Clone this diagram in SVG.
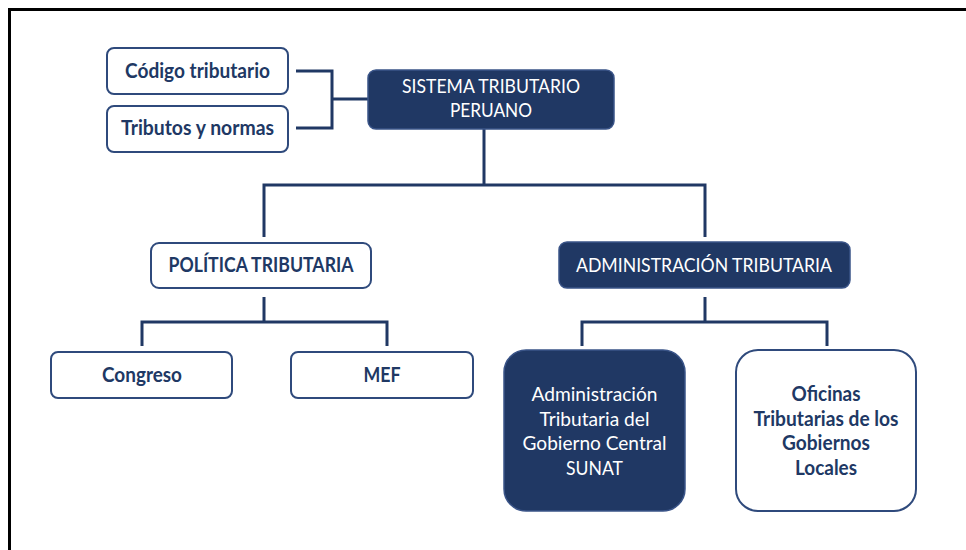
<svg xmlns="http://www.w3.org/2000/svg" width="966" height="550" viewBox="0 0 966 550">
<style>
.frame{stroke:#000;stroke-width:3;fill:none}
.box{fill:#fff;stroke:#2F4A7C;stroke-width:2}
.dark{fill:#203864;stroke:#3A5488;stroke-width:1.5}
.conn{fill:none;stroke:#203864;stroke-width:3}
.tb{font-family:Lato,"Liberation Sans",sans-serif;font-weight:bold;font-size:20px;fill:#203864;text-anchor:middle}
.tw{font-family:Lato,"Liberation Sans",sans-serif;font-size:20px;fill:#fff;text-anchor:middle}
</style>
<rect width="966" height="550" fill="#fff"/>
<path class="frame" d="M9.5,550 V9.5 H966"/>
<g id="connectors">
<path class="conn" d="M296,71 H332 V128 H296 M332,99 H368"/>
<path class="conn" d="M484,129 V185 M264,237 V185 H705 V237"/>
<path class="conn" d="M264,297 V322 M142,346 V322 H387 V346"/>
<path class="conn" d="M705,297 V322 M582,346 V322 H827 V346"/>
</g>
<g id="codigo">
<rect class="box" x="107" y="48" width="181" height="46" rx="7"/>
<text class="tb" x="197.5" y="78" textLength="145" lengthAdjust="spacingAndGlyphs">Código tributario</text>
</g>
<g id="tributos">
<rect class="box" x="107" y="106" width="181" height="46" rx="7"/>
<text class="tb" x="197.5" y="135" textLength="153" lengthAdjust="spacingAndGlyphs">Tributos y normas</text>
</g>
<g id="sistema">
<rect class="dark" x="368" y="70" width="246" height="59" rx="8"/>
<text class="tw" x="491" y="93" font-size="19" textLength="178" lengthAdjust="spacingAndGlyphs">SISTEMA TRIBUTARIO</text>
<text class="tw" x="491" y="117" font-size="19" textLength="82" lengthAdjust="spacingAndGlyphs">PERUANO</text>
</g>
<g id="politica">
<rect class="box" x="151" y="243" width="220" height="45" rx="8"/>
<text class="tb" x="261" y="272" textLength="185" lengthAdjust="spacingAndGlyphs">POLÍTICA TRIBUTARIA</text>
</g>
<g id="administracion">
<rect class="dark" x="559" y="242" width="291" height="46" rx="8"/>
<text class="tw" x="704" y="272" textLength="256" lengthAdjust="spacingAndGlyphs">ADMINISTRACIÓN TRIBUTARIA</text>
</g>
<g id="congreso">
<rect class="box" x="51" y="352" width="181" height="46" rx="7"/>
<text class="tb" x="142" y="382" textLength="80" lengthAdjust="spacingAndGlyphs">Congreso</text>
</g>
<g id="mef">
<rect class="box" x="291" y="352" width="182" height="46" rx="7"/>
<text class="tb" x="382" y="382" textLength="37" lengthAdjust="spacingAndGlyphs">MEF</text>
</g>
<g id="sunat">
<rect class="dark" x="504" y="350" width="181" height="161" rx="22"/>
<text class="tw" x="594.5" y="401" textLength="126" lengthAdjust="spacingAndGlyphs">Administración</text>
<text class="tw" x="594.5" y="426" textLength="110" lengthAdjust="spacingAndGlyphs">Tributaria del</text>
<text class="tw" x="594.5" y="450" textLength="144" lengthAdjust="spacingAndGlyphs">Gobierno Central</text>
<text class="tw" x="594.5" y="475" textLength="57" lengthAdjust="spacingAndGlyphs">SUNAT</text>
</g>
<g id="oficinas">
<rect class="box" x="736" y="350" width="180" height="161" rx="22"/>
<text class="tb" x="826" y="401" textLength="69" lengthAdjust="spacingAndGlyphs">Oficinas</text>
<text class="tb" x="826" y="426" textLength="145" lengthAdjust="spacingAndGlyphs">Tributarias de los</text>
<text class="tb" x="826" y="450" textLength="88" lengthAdjust="spacingAndGlyphs">Gobiernos</text>
<text class="tb" x="826" y="475" textLength="62" lengthAdjust="spacingAndGlyphs">Locales</text>
</g>
</svg>
